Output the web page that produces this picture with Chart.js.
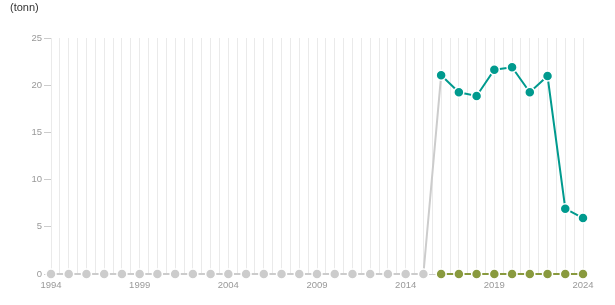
<!DOCTYPE html>
<html>
<head>
<meta charset="utf-8">
<script src="https://cdn.jsdelivr.net/npm/chart.js@4.4.0/dist/chart.umd.min.js"></script>
<style>
  html, body { margin: 0; padding: 0; background: #fff; }
  #wrap { position: relative; width: 615px; height: 305px; }
  #unit { position: absolute; left: 10px; top: 1px; font: 11px "Liberation Sans", Arial, sans-serif; color: #333; }
</style>
</head>
<body>
<div id="wrap">
  <span id="unit">(tonn)</span>
  <canvas id="myChart" width="615" height="305"></canvas>
</div>
<script>
  // data
  const oldYears = [1994, 1995, 1996, 1997, 1998, 1999, 2000, 2001, 2002, 2003, 2004,
                    2005, 2006, 2007, 2008, 2009, 2010, 2011, 2012, 2013, 2014, 2015, 2016];
  const oldValues = [0, 0, 0, 0, 0, 0, 0, 0, 0, 0, 0,
                     0, 0, 0, 0, 0, 0, 0, 0, 0, 0, 0, 21.05];

  const newYears = [2016, 2017, 2018, 2019, 2020, 2021, 2022, 2023, 2024];
  const tealValues = [21.05, 19.25, 18.86, 21.64, 21.9, 19.25, 20.97, 6.92, 5.93];
  const oliveValues = [0, 0, 0, 0, 0, 0, 0, 0, 0];

  const yTicks = [0, 5, 10, 15, 20, 25];
  const xLabelYears = [1994, 1999, 2004, 2009, 2014, 2019, 2024];

  const toPts = (xs, vs) => xs.map((x, i) => ({ x: x, y: vs[i] }));

  const axisFont = { family: '"Liberation Sans", Arial, sans-serif', size: 9.5 };

  const ctx = document.getElementById('myChart');
  new Chart(ctx, {
    type: 'line',
    data: {
      datasets: [
        {
          label: 'teal',
          data: toPts(newYears, tealValues),
          borderColor: '#009a8e',
          backgroundColor: '#009a8e',
          borderWidth: 2,
          pointRadius: 5,
          pointBorderColor: '#fff',
          pointBorderWidth: 1.5,
          clip: false,
          order: 1
        },
        {
          label: 'olive',
          data: toPts(newYears, oliveValues),
          borderColor: '#899a3e',
          backgroundColor: '#899a3e',
          borderWidth: 2,
          pointRadius: 5,
          pointBorderColor: '#fff',
          pointBorderWidth: 1.5,
          clip: false,
          order: 2
        },
        {
          label: 'grey',
          data: toPts(oldYears, oldValues),
          borderColor: '#cccccc',
          backgroundColor: '#cccccc',
          borderWidth: 2,
          pointRadius: function(c) {
            return c.dataIndex === oldYears.length - 1 ? 0 : 5; // last point belongs to teal
          },
          pointBorderColor: '#fff',
          pointBorderWidth: 1.5,
          clip: false,
          order: 3
        }
      ]
    },
    options: {
      responsive: false,
      animation: false,
      layout: { padding: { top: 38, right: 32, bottom: 0, left: 0 } },
      scales: {
        x: {
          type: 'linear',
          min: 1994,
          max: 2024,
          afterFit: function(scale) { scale.height = 31; },
          border: { color: '#cccccc', width: 1 },
          grid: {
            color: '#eaeaea',
            drawTicks: false
          },
          ticks: {
            stepSize: 0.5,
            autoSkip: false,
            maxRotation: 0,
            padding: 6,
            color: '#999',
            font: axisFont,
            callback: function(v) {
              return xLabelYears.includes(v) ? String(v) : '';
            }
          }
        },
        y: {
          min: 0,
          max: 25,
          afterFit: function(scale) { scale.width = 51; },
          afterBuildTicks: function(scale) {
            scale.ticks = yTicks.map(v => ({ value: v }));
          },
          border: { display: false },
          grid: {
            drawOnChartArea: false,
            color: '#cccccc',
            tickLength: 7
          },
          ticks: {
            padding: 2,
            color: '#999',
            font: axisFont
          }
        }
      },
      plugins: {
        legend: { display: false },
        tooltip: { enabled: false }
      }
    }
  });
</script>
</body>
</html>
